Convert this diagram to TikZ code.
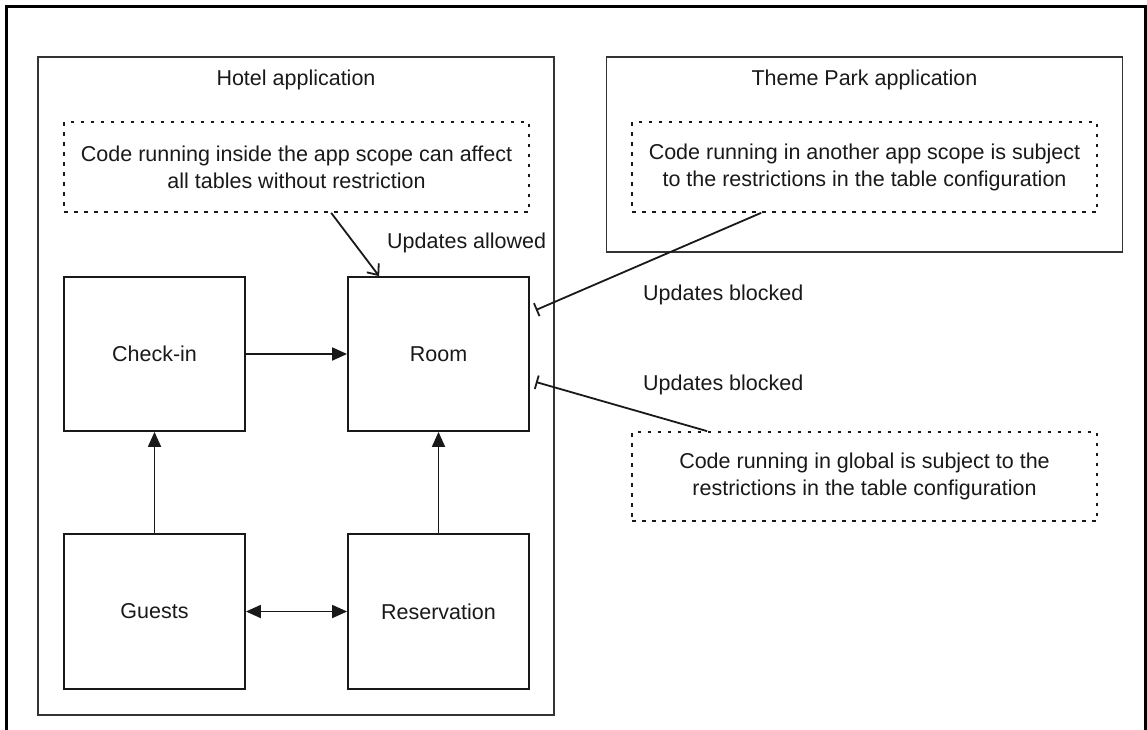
\documentclass[tikz,border=0pt]{standalone}
\usepackage{fontspec}
\setmainfont{Liberation Sans}
\usetikzlibrary{arrows.meta,calc}
\definecolor{ink}{gray}{0.1}
\definecolor{edge}{gray}{0.2}
\begin{document}
\begin{tikzpicture}[x=1pt,y=-1pt,
  every node/.style={font=\fontsize{21.5}{27}\selectfont, text=ink, inner sep=0pt},
  appbox/.style={draw=edge, line width=1.8pt, minimum width=516pt},
  notebox/.style={draw=ink, line width=1.7pt, dash pattern=on 3.5pt off 6.5pt,
    minimum width=465pt, minimum height=90pt, align=center},
  tablebox/.style={draw=ink, line width=1.8pt, minimum width=181pt, minimum height=154pt},
  link/.style={draw=ink, line width=1.8pt},
  feeds/.style={link, -{Triangle[length=15pt,width=13pt]}},
  mutual/.style={link, {Triangle[length=15pt,width=13pt]}-{Triangle[length=15pt,width=13pt]}},
  allowed/.style={link, -{Straight Barb[length=9pt,width=15pt]}},
  blocked/.style={link, -{Bar[width=14pt]}},
  caption/.style={anchor=west}]

  \useasboundingbox (0,0) rectangle (1147,729);

  % page frame, open at the bottom
  \draw[line width=3pt, black] (6,731) -- (6,6) -- (1145,6) -- (1145,731);

  % applications
  \node[appbox, minimum height=658pt] (hotel) at (296,386) {};
  \node at (296,80) (hoteltitle) {Hotel application};
  \node[appbox, minimum height=195pt] (park) at (864.5,154.5) {};
  \node at (864.5,80) (parktitle) {Theme Park application};

  % explanatory notes
  \node[notebox] (inside) at (296.5,167)
    {Code running inside the app scope can affect\\all tables without restriction};
  \node[notebox] (other) at (864.5,167)
    {Code running in another app scope is subject\\to the restrictions in the table configuration};
  \node[notebox, minimum height=89pt] (global) at (864.5,476.5)
    {Code running in global is subject to the\\restrictions in the table configuration};

  % tables
  \node[tablebox] (checkin) at (154.5,354) {Check-in};
  \node[tablebox] (room) at (438.5,354) {Room};
  \node[tablebox, minimum height=155pt] (guests) at (154.5,611.5) {Guests};
  \node[tablebox, minimum height=155pt] (reserv) at (438.5,611.5) {Reservation};

  % relations between tables
  \draw[feeds] (checkin) -- (room);
  \draw[feeds] (guests) -- (checkin);
  \draw[feeds] (reserv) -- (room);
  \draw[mutual] (guests) -- (reserv);

  % access from the different scopes
  \draw[allowed] ($(inside.south west)+(268,0)$) -- ($(room.north west)+(32,0)$);
  \draw[blocked] ($(other.south west)+(130,0)$) -- ($(room.east)+(6,-44)$);
  \draw[blocked] ($(global.north west)+(76,0)$) -- ($(room.east)+(6,28)$);

  \node[caption] (allowcap) at (387,243) {Updates allowed};
  \node[caption] (blockcap1) at (643,295) {Updates blocked};
  \node[caption] (blockcap2) at (643,385) {Updates blocked};
\end{tikzpicture}
\end{document}
